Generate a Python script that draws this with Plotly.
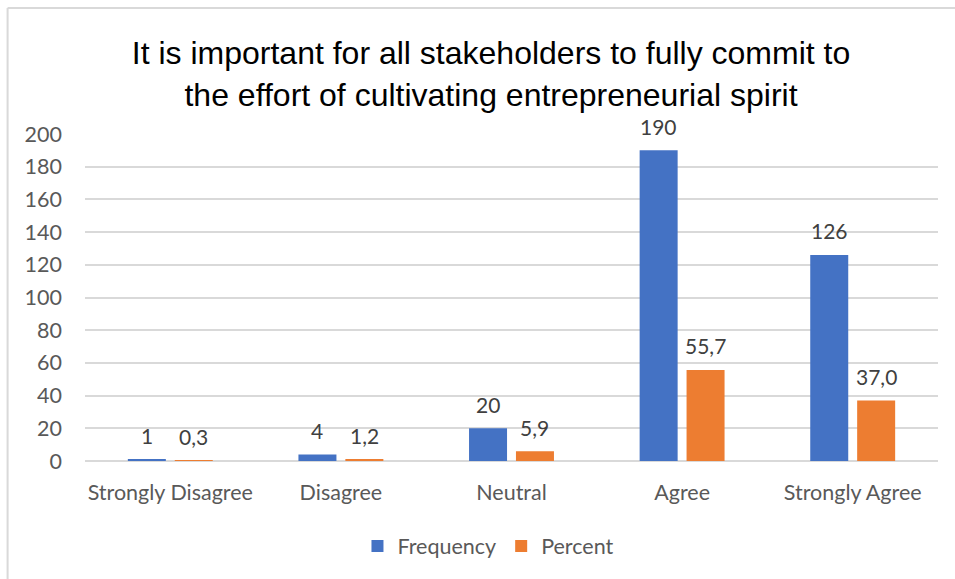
import plotly.graph_objects as go

# Survey responses
categories = ["Strongly Disagree", "Disagree", "Neutral", "Agree", "Strongly Agree"]
frequency = [1, 4, 20, 190, 126]
percent = [0.3, 1.2, 5.9, 55.7, 37.0]
y_ticks = [0, 20, 40, 60, 80, 100, 120, 140, 160, 180, 200]

title_text = ("It is important for all stakeholders to fully commit to<br>"
              "the effort of cultivating entrepreneurial spirit")

W, H = 955, 579
ML, MR, MT, MB = 84.5, 16.5, 134, 118

BLUE = "#4472C4"
ORANGE = "#ED7D31"
FONT_FAMILY = "Lato, Noto Sans, sans-serif"
LABEL_FONT = dict(family=FONT_FAMILY, size=21, color="#404040")
TICK_FONT = dict(family=FONT_FAMILY, size=21.5, color="#595959")

BARGAP = 0.45
BARGROUPGAP = 0.19


def fmt_comma(v):
    return f"{v:.1f}".replace(".", ",")


fig = go.Figure()
fig.add_trace(go.Bar(name="Frequency", x=categories, y=frequency,
                     marker=dict(color=BLUE, line=dict(width=0))))
fig.add_trace(go.Bar(name="Percent", x=categories, y=percent,
                     marker=dict(color=ORANGE, line=dict(width=0))))

pw = W - ML - MR
ph = H - MT - MB
slot_px = pw / len(categories) * (1 - BARGAP) / 2

# Value labels above each bar, offset to the centre of its group slot
for values, texts, side in ((frequency, [str(v) for v in frequency], -1),
                            (percent, [fmt_comma(v) for v in percent], 1)):
    for cat, v, t in zip(categories, values, texts):
        fig.add_annotation(x=cat, y=v, text=t, showarrow=False,
                           xshift=side * slot_px / 2, yshift=24,
                           yanchor="middle", font=LABEL_FONT)


def px_x(p):
    return (p - ML) / pw


def px_y(p):
    return (H - MB - p) / ph


# Thin frame along the top and left edges of the chart
frame = dict(color="#D9D9D9", width=2)
fig.add_shape(type="line", xref="paper", yref="paper",
              x0=px_x(7), x1=px_x(W + 2), y0=px_y(8), y1=px_y(8), line=frame)
fig.add_shape(type="line", xref="paper", yref="paper",
              x0=px_x(7), x1=px_x(7), y0=px_y(8), y1=px_y(H + 2), line=frame)

fig.update_layout(
    width=W, height=H,
    margin=dict(l=ML, r=MR, t=MT, b=MB),
    paper_bgcolor="white", plot_bgcolor="white",
    barmode="group", bargap=BARGAP, bargroupgap=BARGROUPGAP,
    title=dict(text=title_text, x=491 / W, xanchor="center", xref="container",
               y=1 - 64 / H, yanchor="top",
               font=dict(family="Liberation Sans, Arial, sans-serif", size=32, color="#000000")),
    showlegend=True,
    legend=dict(orientation="h", x=0.473, xanchor="center", y=-0.26, yanchor="middle",
                font=TICK_FONT, itemwidth=30, traceorder="normal"),
)
fig.update_xaxes(showgrid=False, showline=False, zeroline=False,
                 tickfont=TICK_FONT, ticks="", ticklabelstandoff=16)
fig.update_yaxes(range=[0, 200], tickvals=y_ticks, showgrid=True,
                 gridcolor="#D9D9D9", gridwidth=1.5, zeroline=True,
                 zerolinecolor="#D9D9D9", zerolinewidth=1.5, showline=False,
                 tickfont=TICK_FONT, ticks="", ticklabelstandoff=22)

fig.write_html("out.html")
